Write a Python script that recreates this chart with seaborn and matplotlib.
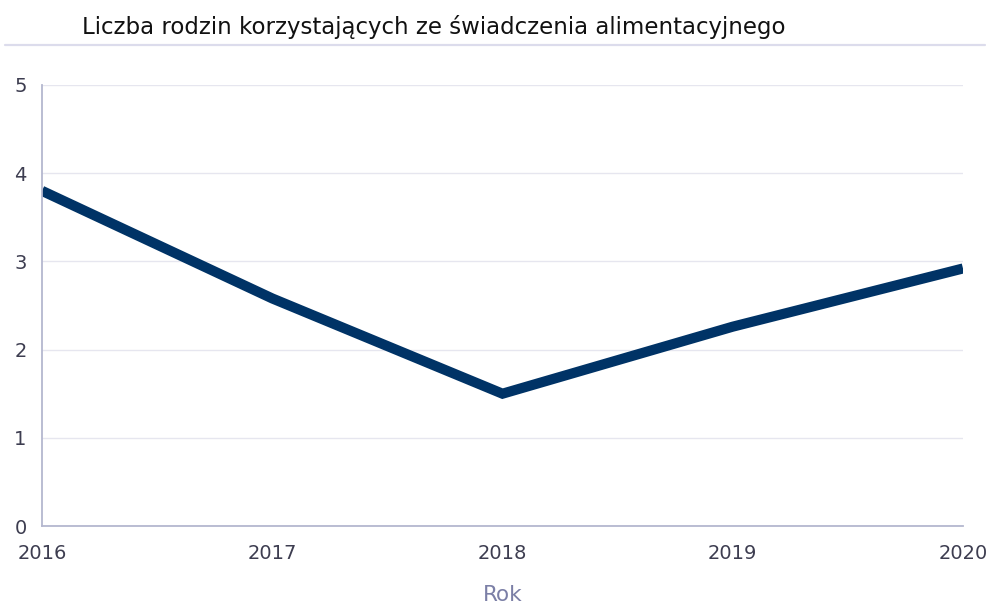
import matplotlib
matplotlib.use("Agg")
import matplotlib.pyplot as plt
import seaborn as sns
import pandas as pd
from matplotlib.lines import Line2D

# Number of families receiving maintenance benefit (thousands)
years = [2016, 2017, 2018, 2019, 2020]
families = [3.80, 2.58, 1.50, 2.26, 2.92]
y_ticks = [0, 1, 2, 3, 4, 5]

df = pd.DataFrame({"Rok": years, "Liczba": families})

sns.set_theme(style="white")
plt.rcParams["font.family"] = ["DejaVu Sans"]

W, H = 986, 609
fig = plt.figure(figsize=(W / 100, H / 100), dpi=100)
ax = fig.add_axes([42 / W, (H - 526) / H, (963 - 42) / W, (526 - 85) / H])

sns.lineplot(data=df, x="Rok", y="Liczba", ax=ax, color="#003366",
             linewidth=7.3, solid_joinstyle="miter", solid_capstyle="butt")

ax.set_xlim(years[0], years[-1])
ax.set_ylim(0, 5)
ax.set_xticks(years)
ax.set_xticklabels([str(y) for y in years])
ax.set_yticks(y_ticks)
ax.set_yticklabels([str(t) for t in y_ticks])

ax.grid(axis="y", color="#e6e6ef", linewidth=1)
ax.set_axisbelow(True)
for side in ["top", "right"]:
    ax.spines[side].set_visible(False)
for side in ["left", "bottom"]:
    ax.spines[side].set_color("#b4b7cf")
    ax.spines[side].set_linewidth(1.3)

ax.tick_params(axis="both", length=0, labelsize=14, colors="#3d3d50")
ax.tick_params(axis="y", pad=11)
ax.tick_params(axis="x", pad=13)

ax.set_ylabel("")
ax.set_xlabel("Rok", fontsize=15.5, color="#7b7fa6", labelpad=16)

fig.text(82 / W, 1 - 27 / H, "Liczba rodzin korzystających ze świadczenia alimentacyjnego",
         fontsize=16.5, color="#111111", ha="left", va="center")
fig.add_artist(Line2D([5 / W, 985 / W], [1 - 45 / H, 1 - 45 / H],
                      transform=fig.transFigure, color="#dcdcec", linewidth=1.6))

fig.savefig("out.png", dpi=100, facecolor="white")
